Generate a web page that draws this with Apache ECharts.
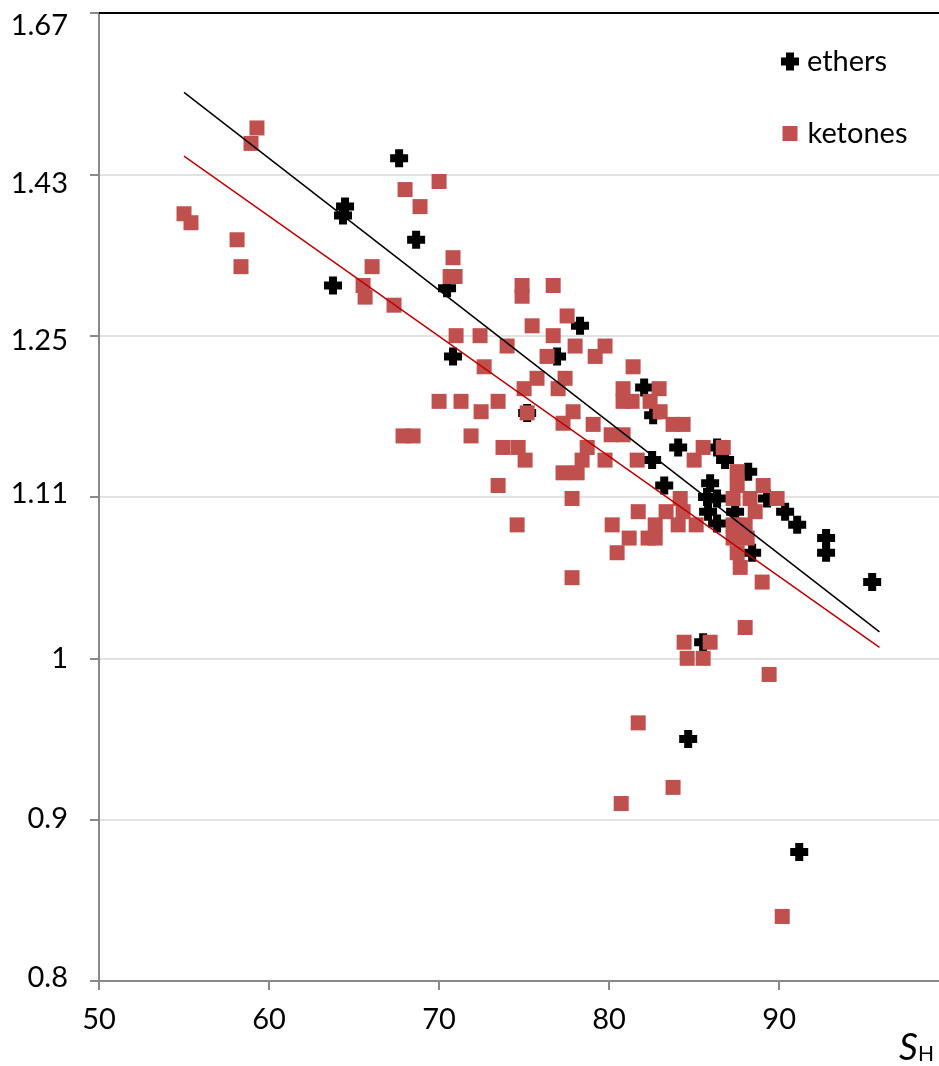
<!DOCTYPE html>
<html>
<head>
<meta charset="utf-8">
<script src="https://cdn.jsdelivr.net/npm/echarts@6/dist/echarts.min.js"></script>
<style>
html,body{margin:0;padding:0;background:#fff;}
#chart{width:939px;height:1066px;}
</style>
</head>
<body>
<div id="chart"></div>
<script>
// ---- data (x = S_H, y = value read against the y-axis labels) ----
const yTickLabels = [0.8, 0.9, 1, 1.11, 1.25, 1.43, 1.67];
const xTicks = [50, 60, 70, 80, 90];

const ethers = [
  [63.76,1.306],[64.47,1.394],[64.35,1.384],[67.65,1.454],[68.65,1.357],
  [70.47,1.303],[70.82,1.232],[78.29,1.261],[76.94,1.232],[75.18,1.183],
  [82.06,1.205],[82.59,1.181],[84.06,1.153],[82.53,1.142],[83.24,1.120],
  [86.35,1.153],[86.82,1.142],[88.18,1.132],[85.94,1.122],[85.76,1.110],
  [86.35,1.109],[85.82,1.100],[86.35,1.092],[87.41,1.100],[88.41,1.072],
  [89.29,1.109],[90.35,1.100],[91.06,1.091],[92.76,1.082],[92.76,1.072],
  [95.47,1.052],[85.53,1.011],[84.65,0.950],[91.18,0.880]
];

const ketones = [
  [55.00,1.386],[55.41,1.376],[58.12,1.357],[58.35,1.327],[58.94,1.476],
  [59.29,1.499],[65.53,1.306],[65.65,1.293],[66.06,1.327],[67.35,1.284],
  [68.00,1.413],[68.88,1.394],[70.00,1.422],[70.82,1.337],[70.65,1.316],
  [70.94,1.316],[70.00,1.193],[67.88,1.163],[68.47,1.163],[71.00,1.250],
  [72.41,1.250],[71.29,1.193],[71.88,1.163],[72.65,1.223],[72.47,1.184],
  [73.47,1.193],[73.47,1.120],[73.76,1.153],[74.65,1.153],[75.06,1.142],
  [74.00,1.241],[74.88,1.306],[74.88,1.294],[75.47,1.261],[76.71,1.306],
  [77.53,1.272],[76.71,1.250],[76.35,1.232],[75.76,1.213],[75.00,1.204],
  [75.18,1.183],[78.00,1.241],[77.41,1.213],[77.00,1.204],[77.88,1.184],
  [77.29,1.174],[77.29,1.131],[78.12,1.131],[78.41,1.142],[74.59,1.091],
  [77.82,1.109],[77.82,1.055],[79.76,1.241],[79.18,1.232],[81.41,1.223],
  [80.82,1.204],[80.82,1.193],[81.35,1.193],[82.94,1.204],[82.41,1.193],
  [83.00,1.184],[83.76,1.173],[84.35,1.173],[79.06,1.173],[80.12,1.164],
  [80.82,1.164],[78.71,1.153],[79.76,1.142],[81.65,1.142],[81.71,1.100],
  [80.18,1.091],[81.18,1.082],[82.29,1.082],[82.71,1.082],[82.71,1.091],
  [80.47,1.072],[83.35,1.100],[84.35,1.100],[84.18,1.109],[84.06,1.091],
  [85.12,1.091],[85.00,1.142],[85.53,1.153],[86.71,1.153],[87.53,1.132],
  [87.53,1.120],[89.06,1.120],[87.29,1.109],[88.29,1.109],[89.88,1.109],
  [88.59,1.100],[87.29,1.091],[88.00,1.091],[87.29,1.082],[88.12,1.082],
  [87.53,1.072],[87.71,1.062],[89.00,1.052],[88.00,1.021],[84.41,1.011],
  [85.94,1.011],[84.59,1.000],[85.53,1.000],[89.41,0.990],[81.71,0.960],
  [83.76,0.920],[80.71,0.910],[90.18,0.840]
];

const etherFit  = [[55.0,1.552],[95.9,1.018]];
const ketoneFit = [[55.0,1.457],[95.9,1.0075]];

// ---- y axis: labelled ticks are evenly spaced; map values onto tick positions ----
function toAxis(v){
  const t = yTickLabels;
  for (let i = 0; i < t.length - 1; i++){
    if (v <= t[i+1] || i === t.length - 2){
      return i + (v - t[i]) / (t[i+1] - t[i]);
    }
  }
}
const mapPts = arr => arr.map(p => [p[0], toAxis(p[1])]);

const FONT = 'Lato';
const labelShift = [-3,-1,0,-3,5,9,13];
const yRich = {};
labelShift.forEach((d,i)=>{
  yRich['p'+i] = {fontFamily:FONT, fontSize:29, color:'#000',
    padding:[Math.max(0,2*d),0,Math.max(0,-2*d),0]};
});

const crossPath = 'path://M5,0H13V5H18V13H13V18H5V13H0V5H5Z';

const chart = echarts.init(document.getElementById('chart'), null, {renderer:'canvas'});
chart.setOption({
  animation:false,
  backgroundColor:'#fff',
  grid:{left:99, top:13, right:0, bottom:85, containLabel:false},
  xAxis:[{
    type:'value', min:50, max:99.4, interval:10,
    axisLine:{show:true, lineStyle:{color:'#898989', width:2}},
    axisTick:{show:true, length:9, customValues:xTicks, lineStyle:{color:'#898989', width:2}},
    splitLine:{show:false},
    axisLabel:{margin:24, fontFamily:FONT, fontSize:29, color:'#000', customValues:xTicks,
      formatter:v => xTicks.indexOf(v) >= 0 ? String(v) : ''}
  },{
    type:'value', position:'top', min:50, max:99.4,
    axisLine:{show:true, onZero:false, lineStyle:{color:'#000', width:2}},
    axisTick:{show:false}, axisLabel:{show:false}, splitLine:{show:false}
  }],
  yAxis:{
    type:'value', min:0, max:6, interval:1,
    axisLine:{show:true, lineStyle:{color:'#898989', width:2}},
    axisTick:{show:true, length:9, lineStyle:{color:'#898989', width:2}},
    splitLine:{show:true, lineStyle:{color:'#d9d9d9', width:1.5}},
    axisLabel:{margin:31, rich:yRich,
      formatter:v => '{p'+v+'|'+yTickLabels[v]+'}'}
  },
  legend:[{
    data:[{name:'ethers', icon:crossPath}],
    left:781, top:47, padding:0, itemWidth:18, itemHeight:18,
    textStyle:{fontFamily:FONT, fontSize:29, color:'#000', padding:[0,0,0,3]}
  },{
    data:[{name:'ketones', icon:'rect'}],
    left:782.5, top:119, padding:0, itemWidth:15, itemHeight:15,
    textStyle:{fontFamily:FONT, fontSize:29, color:'#000', padding:[0,0,0,5]}
  }],
  graphic:[
    {type:'text', left:899, top:1030, style:{text:'S', font:'italic 37px Lato', fill:'#000'}},
    {type:'text', left:918, top:1044, style:{text:'H', font:'21px Lato', fill:'#000'}}
  ],
  series:[
    {name:'ethers', type:'scatter', data:mapPts(ethers), symbol:crossPath, symbolSize:18,
      itemStyle:{color:'#000', opacity:1}, z:2},
    {name:'ketones', type:'scatter', data:mapPts(ketones), symbol:'rect', symbolSize:15,
      itemStyle:{color:'#C0504D', opacity:1}, z:3},
    {name:'etherFit', type:'line', data:mapPts(etherFit), showSymbol:false, symbol:'none',
      lineStyle:{color:'#000', width:1.5}, silent:true, z:4},
    {name:'ketoneFit', type:'line', data:mapPts(ketoneFit), showSymbol:false, symbol:'none',
      lineStyle:{color:'#C00000', width:1.5}, silent:true, z:4}
  ]
});
</script>
</body>
</html>
